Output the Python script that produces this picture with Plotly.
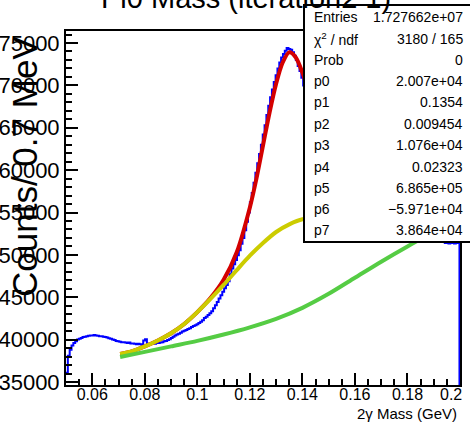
import numpy as np
import plotly.graph_objects as go

# ---------------- data ----------------
bin_start = 0.05
bin_width = 0.0007
counts = [
    36100, 38100, 38800, 39300, 39600, 39800, 40000, 40100, 40200, 40300,
    40350, 40400, 40450, 40500, 40500, 40550, 40500, 40450, 40400, 40400,
    40350, 40300, 40250, 40150, 40100, 40000, 39950, 39850, 39800, 39750,
    39700, 39700, 39650, 39600, 39650, 39550, 39550, 39500, 39450, 39500,
    39450, 39400, 39900, 40050, 39500, 39450, 39500, 39550, 39500, 39600,
    39600, 39650, 39700, 39800, 39850, 39950, 40050, 40200, 40350, 40500,
    40600, 40700, 40800, 40950, 41050, 41150, 41250, 41350, 41500, 41600,
    41700, 41800, 41950, 42100, 42300, 42550, 42700, 42900, 43100, 43350,
    43700, 44050, 44450, 44850, 45250, 45650, 46050, 46450, 46900, 47700,
    48400, 48900, 49400, 49950, 50550, 51300, 52000, 52900, 53900, 55000,
    56200, 57300, 58500, 59700, 60800, 61900, 63000, 64200, 65300, 66500,
    67600, 68600, 69500, 70400, 71200, 72000, 72700, 73300, 73700, 74100,
    74400, 74300, 74200, 73900, 73500, 73000, 72300, 71700, 70900, 70000,
    69100, 68000, 66900, 65700, 64500, 63300, 62100, 61000, 59900, 58900,
    57900, 57000, 56200, 55500, 54900, 54400, 54000, 53700, 53400, 53200,
    53000, 52900, 52800, 52700, 52600, 52500, 52400, 52300, 52300, 52200,
    52100, 52100, 52000, 52000, 51900, 51900, 51900, 51800, 51800, 51800,
    51800, 51800, 51750, 51750, 51750, 51700, 51700, 51700, 51700, 51700,
    51700, 51700, 51700, 51650, 51650, 51650, 51650, 51650, 51650, 51650,
    51650, 51650, 51600, 51600, 51600, 51600, 51600, 51600, 51600, 51600,
    51600, 51600, 51600, 51550, 51550, 51550, 51400, 51450, 51350, 51400,
    51450, 51350, 51400, 51400,
]

# total fit (red)
fit_x = [0.0706, 0.075, 0.08, 0.085, 0.09, 0.095, 0.10, 0.105, 0.11, 0.115,
         0.12, 0.1225, 0.125, 0.1275, 0.13, 0.1325, 0.135, 0.1375, 0.14, 0.1425,
         0.145, 0.15, 0.155, 0.16, 0.165, 0.17, 0.175, 0.18, 0.185, 0.19,
         0.195, 0.199]
fit_total = [38300, 38600, 39200, 39900, 40750, 41850, 43250, 44900, 47050, 50300,
             55600, 59000, 62900, 66800, 70200, 72700, 73900, 73300, 71500, 69000,
             65900, 60000, 55800, 53400, 52350, 51850, 51750, 51850, 52200, 52850,
             53650, 54250]

# background + wide component (yellow)
wide_x = [0.0706, 0.075, 0.08, 0.085, 0.09, 0.095, 0.10, 0.105, 0.11, 0.115,
          0.12, 0.125, 0.13, 0.135, 0.14, 0.145, 0.15, 0.155, 0.16, 0.165,
          0.17, 0.175, 0.18, 0.185, 0.19, 0.195, 0.199]
wide_y = [38300, 38600, 39200, 39900, 40750, 41850, 43250, 44800, 46450, 48200,
          49900, 51400, 52700, 53600, 54200, 54250, 53900, 53300, 52700, 52200,
          51850, 51750, 51850, 52200, 52850, 53650, 54250]

# background (green)
bg_x = [0.0706, 0.08, 0.09, 0.10, 0.11, 0.12, 0.13, 0.14, 0.15, 0.16, 0.17, 0.18, 0.19, 0.199]
bg_y = [37950, 38550, 39200, 39850, 40600, 41450, 42450, 43750, 45400, 47300, 49200, 51000, 52700, 54000]

x_tickvals = [0.06, 0.08, 0.10, 0.12, 0.14, 0.16, 0.18, 0.20]
x_ticktext = ["0.06", "0.08", "0.1", "0.12", "0.14", "0.16", "0.18", "0.2\u00a0\u00a0\u00a0\u00a0"]
y_tickvals = [35000, 40000, 45000, 50000, 55000, 60000, 65000, 70000, 75000]
y_ticktext = ["35000", "40000", "45000", "50000", "55000", "60000", "65000", "70000", "75000"]

title_text = "Pi0 Mass (iteration2 1)"
x_title = "2γ Mass (GeV)"
y_title = "Counts/ 0.7 MeV"

stats_labels = ["Entries", "χ<sup>2</sup> / ndf", "Prob", "p0", "p1", "p2", "p3", "p4", "p5", "p6", "p7"]
stats_values = ["1.727662e+07", "3180 / 165", "0", "2.007e+04", "0.1354", "0.009454",
                "1.076e+04", "0.02323", "6.865e+05", "\u22125.971e+04", "3.864e+04"]

# ---------------- layout geometry (pixels) ----------------
W, H = 470, 423
L, R, T, B = 66, 460, 31, 385
pw, ph = R - L, B - T


def px(xp):
    return (xp - L) / pw


def py(yp):
    return (B - yp) / ph


edges = bin_start + bin_width * np.arange(len(counts) + 1)
hist_x = list(edges)
hist_y = list(counts) + [0]

FONT = "Liberation Sans, Arial, Helvetica, sans-serif"

fig = go.Figure()
fig.add_trace(go.Scatter(x=hist_x, y=hist_y, mode="lines", line=dict(color="#0000ff", width=2, shape="hv"),
                         hoverinfo="skip"))
fig.add_trace(go.Scatter(x=fit_x, y=fit_total, mode="lines",
                         line=dict(color="#d40000", width=4, shape="spline", smoothing=0.8), hoverinfo="skip"))
fig.add_trace(go.Scatter(x=wide_x, y=wide_y, mode="lines",
                         line=dict(color="#cccc00", width=4, shape="spline", smoothing=0.8), hoverinfo="skip"))
fig.add_trace(go.Scatter(x=bg_x, y=bg_y, mode="lines",
                         line=dict(color="#55cc44", width=4, shape="spline", smoothing=0.8), hoverinfo="skip"))

axis_common = dict(showgrid=False, zeroline=False, showline=True, mirror=True, linecolor="black", linewidth=2,
                   ticks="inside", ticklen=12, tickwidth=2, tickcolor="black", automargin=False,
                   ticklabeloverflow="allow")

fig.update_xaxes(range=[0.05, 0.2], tickmode="array", tickvals=x_tickvals, ticktext=x_ticktext,
                 tickfont=dict(family=FONT, size=16, color="black"), ticklabelstandoff=-6,
                 minor=dict(tickmode="linear", tick0=0.0, dtick=0.005, ticks="inside", ticklen=6,
                            tickwidth=2, tickcolor="black"),
                 **axis_common)
fig.update_yaxes(range=[34646, 76416], tickmode="array", tickvals=y_tickvals, ticktext=y_ticktext,
                 tickfont=dict(family=FONT, size=22, color="black"),
                 minor=dict(tickmode="linear", tick0=0, dtick=1000, ticks="inside", ticklen=6,
                            tickwidth=2, tickcolor="black"),
                 **axis_common)

shapes = [dict(type="rect", xref="paper", yref="paper", x0=px(304), x1=px(471), y0=py(242), y1=py(5),
               fillcolor="white", line=dict(color="black", width=2), layer="above")]

annotations = []
row_y = [17, 39.5, 60, 81, 102, 123.5, 145, 166.5, 188, 209, 230]
for lab, val, ry in zip(stats_labels, stats_values, row_y):
    annotations.append(dict(x=px(312), y=py(ry), xref="paper", yref="paper", text=lab, showarrow=False,
                            xanchor="left", yanchor="middle", font=dict(family=FONT, size=14, color="black")))
    annotations.append(dict(x=px(465), y=py(ry), xref="paper", yref="paper", text=val, showarrow=False,
                            xanchor="right", yanchor="middle", font=dict(family=FONT, size=14, color="black")))

annotations.append(dict(x=px(246), y=py(16), xref="paper", yref="paper", text=title_text, showarrow=False,
                        xanchor="center", yanchor="bottom", font=dict(family=FONT, size=29, color="black")))
annotations.append(dict(x=px(459), y=py(413), xref="paper", yref="paper", text=x_title, showarrow=False,
                        xanchor="right", yanchor="middle", font=dict(family=FONT, size=15, color="black")))
annotations.append(dict(x=px(24), y=py(167), xref="paper", yref="paper", text=y_title, showarrow=False,
                        textangle=-90, xanchor="center", yanchor="middle",
                        font=dict(family=FONT, size=35, color="black")))

fig.update_layout(width=W, height=H, margin=dict(l=L, r=W - R, t=T, b=H - B, pad=0),
                  paper_bgcolor="white", plot_bgcolor="white", showlegend=False,
                  shapes=shapes, annotations=annotations)

fig.write_html("out.html", config={"displayModeBar": False, "staticPlot": True},
               post_script="document.body.style.margin='0px';document.body.style.overflow='hidden';")
